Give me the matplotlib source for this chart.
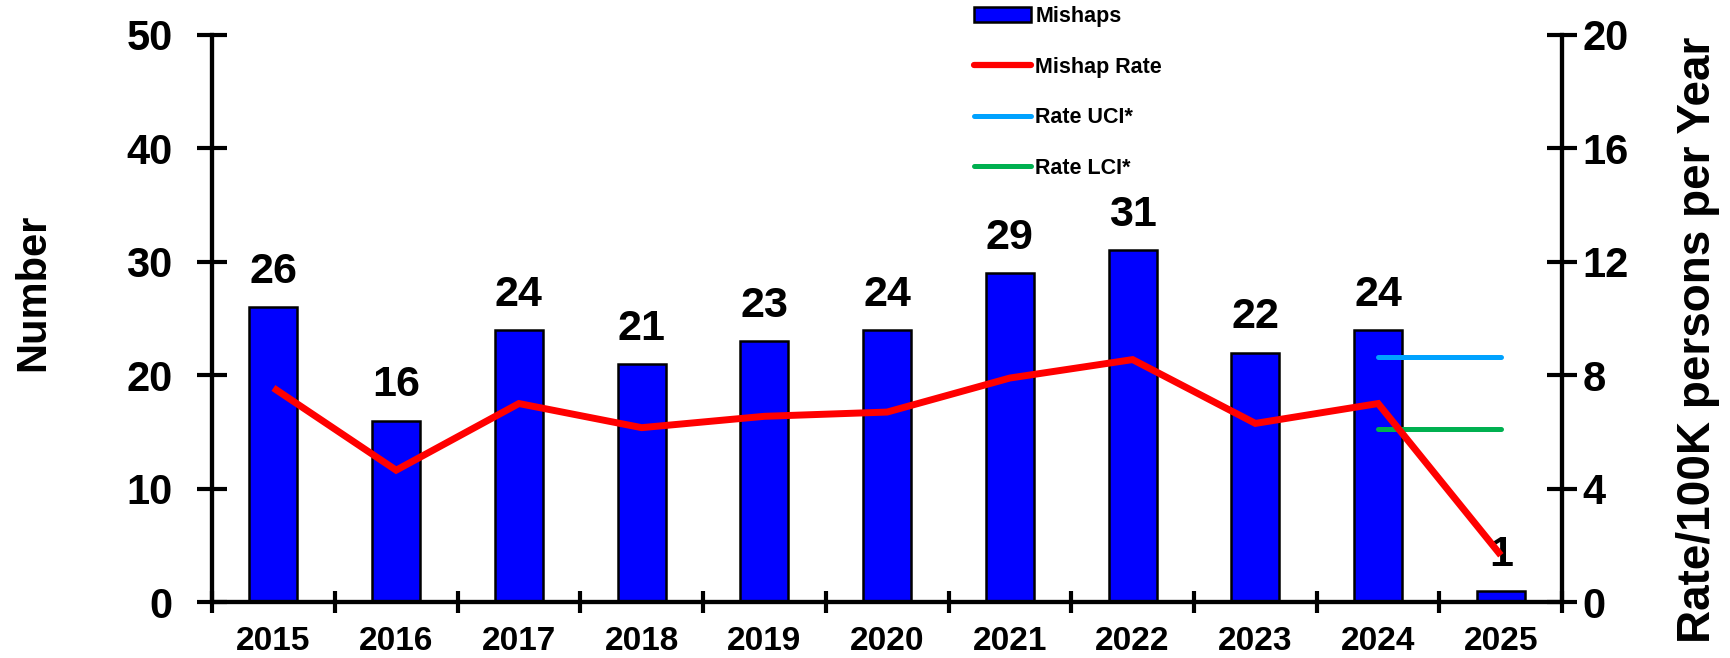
"""年別の事故件数（棒）と 10 万人あたりの発生率（折れ線）を 2 軸で描く。"""

import matplotlib

matplotlib.use("Agg")

import matplotlib.pyplot as plt  # noqa: E402
import numpy as np  # noqa: E402
from matplotlib.lines import Line2D  # noqa: E402
from matplotlib.patches import Patch  # noqa: E402

years = ["2015", "2016", "2017", "2018", "2019", "2020",
         "2021", "2022", "2023", "2024", "2025"]
mishaps = [26, 16, 24, 21, 23, 24, 29, 31, 22, 24, 1]
mishap_rate = [7.55, 4.65, 7.0, 6.15, 6.55, 6.7, 7.9, 8.55, 6.3, 7.0, 1.65]
# 信頼区間は直近年から 2025 年までの水平線として描かれている
ci_years = [9, 10]
rate_uci = [8.65, 8.65]
rate_lci = [6.1, 6.1]

BAR_COLOR = "#0000FF"
RATE_COLOR = "#FF0000"
UCI_COLOR = "#00A2FF"
LCI_COLOR = "#00B050"

plt.rcParams["font.family"] = ["Liberation Sans", "DejaVu Sans"]
plt.rcParams["font.weight"] = "bold"

fig = plt.figure(figsize=(17.31, 6.58), dpi=100)
ax = fig.add_axes([0.1225, 0.085, 0.780, 0.862])
ax2 = ax.twinx()

x = np.arange(len(years))
ax.bar(x, mishaps, width=0.39, color=BAR_COLOR, edgecolor="black",
       linewidth=1.8, zorder=2)
for xi, v in zip(x, mishaps):
    ax.annotate(str(v), (xi, v), xytext=(0, 11), textcoords="offset points",
                ha="center", va="bottom", fontsize=31, fontweight="bold",
                zorder=5)

ax2.plot(x, mishap_rate, color=RATE_COLOR, linewidth=5,
         solid_joinstyle="miter", solid_capstyle="butt", zorder=3)
ax2.plot(ci_years, rate_uci, color=UCI_COLOR, linewidth=3.6,
         solid_capstyle="round")
ax2.plot(ci_years, rate_lci, color=LCI_COLOR, linewidth=3.6,
         solid_capstyle="round")

ax.set_xlim(-0.5, len(years) - 0.5)
ax.set_ylim(0, 50)
ax2.set_ylim(0, 20)
ax.set_yticks([0, 10, 20, 30, 40, 50])
ax2.set_yticks([0, 4, 8, 12, 16, 20])

# 目盛り線はカテゴリの境界、ラベルはカテゴリの中央に置く
ax.set_xticks(np.arange(-0.5, len(years), 1.0))
ax.set_xticklabels([])
ax.set_xticks(x, minor=True)
ax.set_xticklabels(years, minor=True)
ax.tick_params(axis="x", which="major", direction="inout", length=16,
               width=3)
ax.tick_params(axis="x", which="minor", length=0, pad=17, labelsize=24)
# 左の目盛りラベルは軸から大きく離れている
ax.tick_params(axis="y", direction="inout", length=21, width=3,
               labelsize=30, pad=18)
ax2.tick_params(axis="y", direction="inout", length=21, width=3,
                labelsize=30, pad=4)

for a in (ax, ax2):
    a.spines["top"].set_visible(False)
    for side in ("left", "right", "bottom"):
        a.spines[side].set_linewidth(3)

fig.text(0.019, 0.5555, "Number", rotation=90, ha="center", va="center",
         fontsize=30, fontweight="bold")
fig.text(0.981, 0.484, "Rate/100K persons per Year", rotation=90,
         ha="center", va="center", fontsize=33, fontweight="bold")

handles = [
    Patch(facecolor=BAR_COLOR, edgecolor="black", linewidth=1.8),
    Line2D([], [], color=RATE_COLOR, linewidth=4.5, solid_capstyle="round"),
    Line2D([], [], color=UCI_COLOR, linewidth=3.6, solid_capstyle="round"),
    Line2D([], [], color=LCI_COLOR, linewidth=3.6, solid_capstyle="round"),
]
labels = ["Mishaps", "Mishap Rate", "Rate UCI*", "Rate LCI*"]
fig.legend(handles, labels, loc="upper left", bbox_to_anchor=(0.5615, 0.994),
           frameon=False, prop={"weight": "bold", "size": 15.5},
           handlelength=2.65, handletextpad=0.2, labelspacing=1.37,
           borderpad=0.1, borderaxespad=0)

fig.savefig("out.png", dpi=100)
